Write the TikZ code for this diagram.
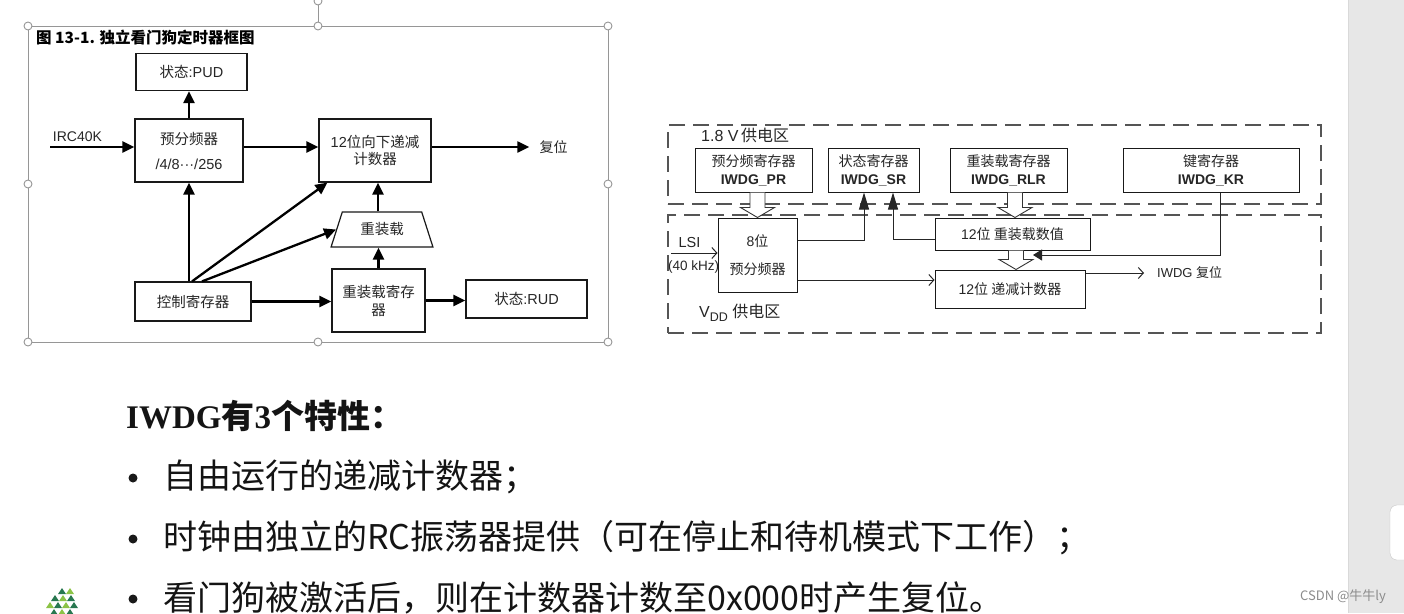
\documentclass[tikz,border=0pt]{standalone}
\usepackage{fontspec}
\setmainfont{Liberation Sans}
\newfontfamily\cjk{Noto Sans CJK SC}
\newfontfamily\tnr{Liberation Serif}
\usepackage{tikz}
\usetikzlibrary{arrows.meta,positioning,calc,shapes.geometric}
\definecolor{framegray}{RGB}{150,150,150}
\definecolor{dashgray}{RGB}{85,85,85}
\definecolor{stripgray}{RGB}{231,231,231}
\definecolor{leafdark}{RGB}{40,120,80}
\definecolor{leaflight}{RGB}{140,195,70}
\newcommand\zh[1]{{\cjk #1}}
% hollow (double line) arrow from the y of #1 down to #2
\newcommand\hollowarr[2]{%
  \draw[hol] let \p1=(#1), \p2=(#2) in
    (\x2-7.5pt,\y1) -- (\x2-7.5pt,\y2+10pt) -- (\x2-17pt,\y2+10pt) -- (\x2,\y2)
    -- (\x2+17pt,\y2+10pt) -- (\x2+7.5pt,\y2+10pt) -- (\x2+7.5pt,\y1);}

\begin{document}
\begin{tikzpicture}[
  x=1pt, y=-1pt,
  lbox/.style={draw=black!90, line width=1.2pt, align=center, inner sep=0pt, text=black!85,
    font=\fontsize{14.5}{17}\selectfont},
  rbox/.style={draw=black!90, line width=1pt, align=center, inner sep=0pt, text=black!85,
    font=\fontsize{14}{18}\selectfont},
  zone/.style={draw=dashgray, line width=1.5pt, dash pattern=on 16pt off 8pt, inner sep=0pt},
  lbl/.style={inner sep=0pt, text=black!85},
  thk/.style={line width=2.3pt, -{Triangle[length=12pt,width=11pt]}},
  thn/.style={line width=1pt, draw=black!85},
  opn/.style={thn, -{Straight Barb[length=5pt,width=11pt]}},
  farr/.style={thn, -{Triangle[length=17pt,width=10pt]}},
  karr/.style={thn, -{Triangle[length=9pt,width=11pt]}},
  hol/.style={line width=0.9pt, draw=black!80, fill=white, line join=miter},
  handle/.style={circle, draw=framegray, fill=white, line width=0.9pt, inner sep=0pt, minimum size=8pt},
  txt/.style={anchor=west, inner sep=0pt, font=\cjk\fontsize{34}{40}\selectfont, text=black!92}
]
\useasboundingbox (0,0) rectangle (1404,613);
\fill[white] (0,0) rectangle (1404,613);

% selection frame of the pasted figure
\draw[framegray, line width=0.9pt] (28,26) rectangle (608,342);
\draw[framegray, line width=0.9pt] (318,26) -- (318,5);
\foreach \hx/\hy [count=\i] in {28/26,318/26,608/26,28/184,608/184,28/342,318/342,608/342,318/1}
  \node[handle] (h\i) at (\hx,\hy) {};

% left block diagram
\node[lbl, anchor=west, font=\cjk\bfseries\fontsize{15.5}{18}\selectfont, text=black] (title) at (36,38) {图 13-1. 独立看门狗定时器框图};
\node[lbox, minimum width=111pt, minimum height=37pt] (pud) at (191.5,72) {\zh{状态}:PUD};
\node[lbox, minimum width=108pt, minimum height=63pt] (pre) at (189,150.5) {\zh{预分频器}\\[8pt]/4/8···/256};
\node[lbox, minimum width=112pt, minimum height=63pt] (cnt) at (375,150.5) {12\zh{位向下递减}\\\zh{计数器}};
\node[lbox, trapezium, trapezium angle=65.4, trapezium stretches=true,
  minimum width=102pt, minimum height=35pt] (rld) at (382,229.5) {\zh{重装载}};
\node[lbox, minimum width=116pt, minimum height=39pt] (ctl) at (193,301.5) {\zh{控制寄存器}};
\node[lbox, minimum width=93pt, minimum height=63pt, font=\fontsize{14.5}{18}\selectfont] (rlr) at (378.5,300.5) {\zh{重装载寄存}\\\zh{器}};
\node[lbox, minimum width=121pt, minimum height=38pt] (rud) at (526.5,299) {\zh{状态}:RUD};
\node[lbl, font=\fontsize{14}{16}\selectfont] (irc) at (77.5,137) {IRC40K};
\node[lbl, font=\cjk\fontsize{14}{16}\selectfont] (rst) at (553.5,147) {复位};
\coordinate (ircin) at (50,147);

\draw[thk] (ircin) -- (ircin -| pre.west);
\draw[thk] (pre.north) -- (pre.north |- pud.south);
\draw[thk] (ircin -| pre.east) -- (ircin -| cnt.west);
\draw[thk] (rst.west -| cnt.east) -- ([xshift=-10pt]rst.west);
\draw[thk] (pre.south |- ctl.north) -- (pre.south);
\draw[thk] ([xshift=-1pt]ctl.north) -- ([xshift=9pt]cnt.south west);
\draw[thk] ([xshift=9pt]ctl.north) -- (rld.west);
\draw[thk] (ctl.east) -- (ctl.east -| rlr.west);
\draw[thk] (rlr.north) -- (rlr.north |- rld.south);
\draw[thk] ([xshift=-4pt]rld.north) -- ([xshift=-4pt]rld.north |- cnt.south);
\draw[thk] (rlr.east) -- (rlr.east -| rud.west);

% right block diagram
\node[zone, minimum width=653pt, minimum height=79pt] (zone18) at (994.5,164.5) {};
\node[zone, minimum width=653pt, minimum height=118pt] (zonevdd) at (994.5,274) {};
\node[lbl, anchor=west, font=\fontsize{16}{18}\selectfont] (lbl18) at (701,135) {1.8 V\,\zh{供电区}};
\node[lbl, anchor=west, font=\fontsize{16}{18}\selectfont] (lblvdd) at (699,313) {V\raisebox{-4pt}{\fontsize{12.5}{13}\selectfont DD} \zh{供电区}};

\node[rbox, minimum width=117pt, minimum height=44pt] (pr) at (753.5,170) {\zh{预分频寄存器}\\\textbf{IWDG\_PR}};
\node[rbox, minimum width=91pt, minimum height=44pt] (sr) at (873.5,170) {\zh{状态寄存器}\\\textbf{IWDG\_SR}};
\node[rbox, minimum width=117pt, minimum height=44pt] (rlrr) at (1008.5,170) {\zh{重装载寄存器}\\\textbf{IWDG\_RLR}};
\node[rbox, minimum width=176pt, minimum height=44pt] (kr) at (1211,170) {\zh{键寄存器}\\\textbf{IWDG\_KR}};
\node[rbox, minimum width=79pt, minimum height=74pt] (psc) at (757.5,255) {8\zh{位}\\[10pt]\zh{预分频器}};
\node[rbox, minimum width=155pt, minimum height=32pt] (rv) at (1012.5,234) {12\zh{位 重装载数值}};
\node[rbox, minimum width=150pt, minimum height=38pt] (dc) at (1010,289) {12\zh{位 递减计数器}};
\node[lbl, font=\fontsize{14.5}{16}\selectfont] (lsi) at (689.5,243) {LSI};
\node[lbl, font=\fontsize{13.5}{16}\selectfont] (khz) at (693.5,267) {(40 kHz)};
\node[lbl, anchor=west, font=\fontsize{13}{16}\selectfont] (rst2) at (1157,273) {IWDG \zh{复位}};
\coordinate (lsiin) at (671,253);
\coordinate (kin) at (1033,255);
\coordinate (dcin) at ([yshift=9pt]dc.west);
\coordinate (dcout) at ([yshift=16pt]dc.east);
\coordinate (rstin) at ([xshift=-13pt]rst2.west);

\hollowarr{pr.south}{psc.north}
\hollowarr{rlrr.south}{[xshift=2.5pt]rv.north}
\hollowarr{rv.south}{[xshift=6pt]dc.north}
\draw[opn] (lsiin) -- (lsiin -| psc.west);
\draw[farr] ([yshift=15pt]psc.east) -| ([xshift=-9.5pt]sr.south);
\draw[farr] ([yshift=-5pt]rv.west) -| ([xshift=19.5pt]sr.south);
\draw[karr] ([xshift=9pt]kr.south) |- (kin);
\draw[opn] (dcin -| psc.east) -- (dcin);
\draw[opn] (dcout) -- (dcout -| rstin);

% text below the figures
\node[lbl, anchor=west, text=black!92, font=\bfseries\fontsize{33}{38}\selectfont] (feat) at (126,416)
  {{\tnr IWDG}\zh{有}{\tnr 3}\zh{个特性：}};
\foreach \ty/\tt [count=\i] in {477/自由运行的递减计数器；,
    538/时钟由独立的RC振荡器提供（可在停止和待机模式下工作）；,
    598/看门狗被激活后，则在计数器计数至0x000时产生复位。} {
  \node[circle, fill=black!90, inner sep=0pt, minimum size=9pt] (dot\i) at (133,\ty+1) {};
  \node[txt] (item\i) at (163,\ty) {\tt};
}

% logo, bottom left
\foreach \lx/\ly/\lc in {62/592/leafdark,70/592/leaflight,55/599/leafdark,63/599/leaflight,
    71/599/leafdark,50/606/leaflight,58/606/leafdark,66/606/leaflight,74/606/leafdark,
    54/613/leafdark,62/613/leaflight,70/613/leafdark}
  \fill[\lc] (\lx,\ly-4) -- (\lx+4,\ly+2) -- (\lx-4,\ly+2) -- cycle;

% scroll bar strip and watermark
\fill[stripgray] (1348,0) rectangle (1404,613);
\draw[black!15, line width=1pt] (1348,0) -- (1348,613);
\draw[black!22, fill=white, rounded corners=7pt] (1390,505) rectangle (1414,560);
\node[lbl, anchor=west, text=black!45, font=\cjk\fontsize{13}{14}\selectfont] (wm) at (1300,597) {CSDN @牛牛ly};
\end{tikzpicture}
\end{document}
